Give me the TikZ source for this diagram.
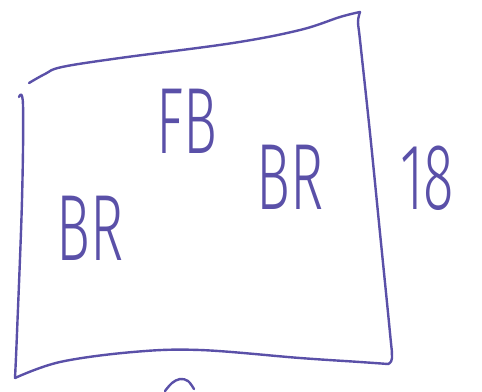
\documentclass[tikz,border=0pt]{standalone}
\usepackage{fontspec}
\newfontfamily\hand{Fira Sans Light}
\definecolor{ink}{HTML}{5A50A8}
\begin{document}
\begin{tikzpicture}[x=1pt,y=-1pt,
  pen/.style={draw=ink,line width=2.4pt,line cap=round,line join=round},
  lbl/.style={text=ink,font=\hand\fontsize{94}{94}\selectfont,inner sep=0pt,xscale=0.6}]
\useasboundingbox (0,0) rectangle (482,391);
\clip (0,0) rectangle (482,391);
% sheet outline
\draw[pen] plot[smooth,tension=0.6] coordinates {(29,83) (45,74) (62,67) (120,58) (233,43) (300,30) (340,17) (360,12)};
\draw[pen] plot[smooth,tension=0.6] coordinates {(360,12) (358,22) (360,40) (370,133) (380,233) (390,333) (392,358) (388,364)};
\draw[pen] plot[smooth,tension=0.6] coordinates {(388,364) (360,362) (300,358) (200,350) (133,352) (60,362) (15,378)};
\draw[pen] plot[smooth,tension=0.6] coordinates {(15,378) (17,333) (22,200) (23,105) (19,97)};
% partial mark below
\draw[pen] plot[smooth,tension=0.6] coordinates {(165,391) (172,383) (180,379) (188,381) (194,389)};
% labels
\node[lbl] (fb) at (187,121) {FB};
\node[lbl] (brm) at (290,177) {BR};
\node[lbl] (brl) at (90,228) {BR};
\node[lbl] (n18) at (427,178) {18};
\end{tikzpicture}
\end{document}
